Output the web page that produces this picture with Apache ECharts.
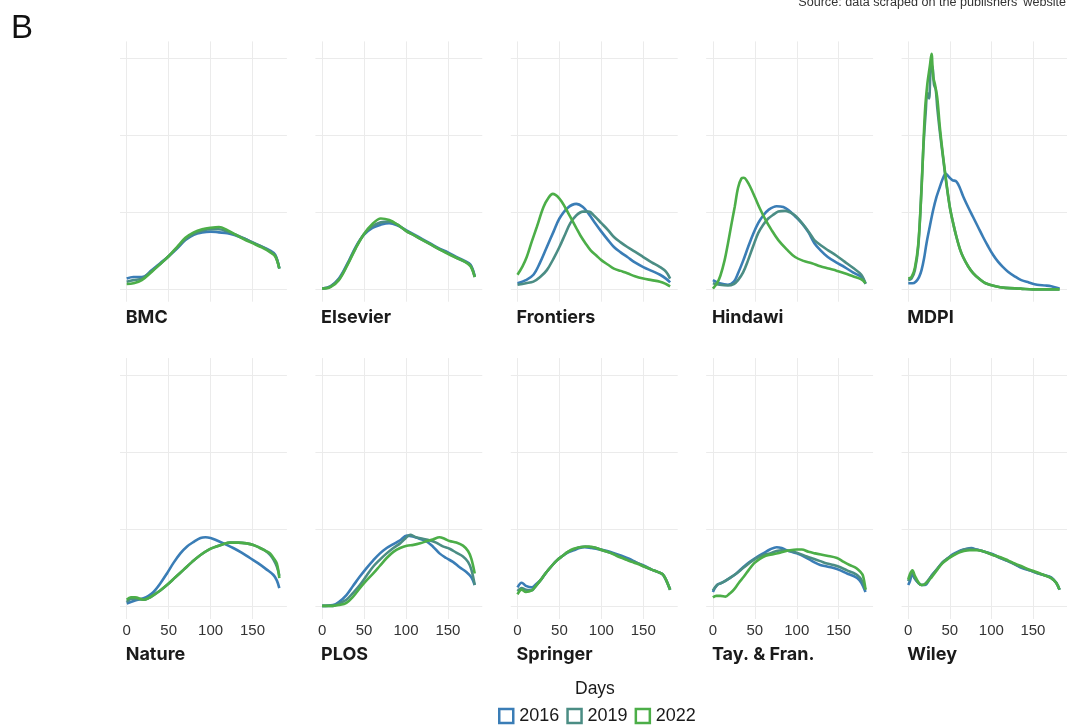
<!DOCTYPE html>
<html><head><meta charset="utf-8">
<script src="https://cdn.jsdelivr.net/npm/echarts@6/dist/echarts.min.js"></script>
<style>html,body{margin:0;padding:0;background:#fff}#c{width:1067px;height:725px}</style>
</head><body><div id="c"></div><script>
// ---- data (days, density-like scale) ----
const publishers = ['BMC','Elsevier','Frontiers','Hindawi','MDPI','Nature','PLOS','Springer','Tay. & Fran.','Wiley'];
const years = ['2016','2019','2022'];
const xTickValues = [0,50,100,150];
const yGridValues = [0,1,2,3];

const bmc2016 = [[0,0.14],[8,0.16],[18,0.16],[30,0.25],[40,0.34],[50,0.43],[60,0.53],[70,0.64],[80,0.71],[90,0.74],[100,0.75],[110,0.74],[120,0.73],[130,0.70],[140,0.66],[150,0.61],[160,0.56],[170,0.51],[177,0.45],[182,0.27]];
const bmc2019 = [[0,0.10],[8,0.12],[18,0.14],[30,0.24],[40,0.33],[50,0.43],[60,0.54],[70,0.65],[80,0.72],[90,0.76],[100,0.78],[110,0.78],[120,0.75],[130,0.71],[140,0.66],[150,0.61],[160,0.56],[170,0.50],[177,0.44],[182,0.27]];
const bmc2022 = [[0,0.07],[8,0.08],[18,0.12],[30,0.23],[40,0.33],[50,0.43],[60,0.55],[70,0.67],[80,0.74],[90,0.78],[100,0.80],[110,0.81],[120,0.77],[130,0.71],[140,0.65],[150,0.60],[160,0.55],[170,0.49],[177,0.43],[182,0.27]];

const els2016 = [[0,0.01],[10,0.04],[20,0.14],[30,0.33],[40,0.55],[50,0.71],[60,0.80],[70,0.84],[80,0.86],[90,0.83],[100,0.77],[110,0.71],[120,0.65],[130,0.59],[140,0.53],[150,0.48],[160,0.42],[170,0.37],[177,0.32],[182,0.17]];
const els2019 = [[0,0.01],[10,0.04],[20,0.13],[30,0.32],[40,0.54],[50,0.72],[60,0.82],[70,0.87],[80,0.88],[90,0.84],[100,0.76],[110,0.70],[120,0.64],[130,0.58],[140,0.52],[150,0.47],[160,0.41],[170,0.36],[177,0.31],[182,0.16]];
const els2022 = [[0,0.01],[10,0.03],[20,0.12],[30,0.31],[40,0.53],[50,0.72],[60,0.85],[70,0.92],[80,0.90],[90,0.84],[100,0.76],[110,0.70],[120,0.64],[130,0.58],[140,0.52],[150,0.46],[160,0.41],[170,0.36],[177,0.30],[182,0.16]];

const fro2016 = [[0,0.08],[10,0.12],[19,0.19],[27,0.35],[35,0.55],[43,0.75],[50,0.92],[60,1.06],[70,1.11],[78,1.07],[85,0.98],[92,0.87],[100,0.75],[108,0.64],[115,0.55],[123,0.48],[131,0.42],[140,0.35],[150,0.29],[160,0.24],[170,0.19],[177,0.14],[182,0.09]];
const fro2019 = [[0,0.06],[10,0.08],[19,0.10],[27,0.16],[35,0.25],[43,0.40],[50,0.55],[57,0.72],[63,0.86],[70,0.96],[78,1.01],[85,1.01],[92,0.95],[100,0.86],[108,0.77],[115,0.68],[123,0.61],[131,0.55],[140,0.49],[150,0.42],[160,0.35],[170,0.29],[177,0.23],[182,0.14]];
const fro2022 = [[0,0.19],[6,0.30],[11,0.42],[17,0.62],[23,0.81],[31,1.07],[37,1.19],[42,1.24],[50,1.18],[57,1.06],[63,0.94],[70,0.80],[75,0.70],[81,0.60],[87,0.51],[94,0.44],[100,0.38],[108,0.32],[115,0.27],[123,0.24],[131,0.21],[140,0.17],[150,0.14],[160,0.12],[170,0.10],[177,0.07],[182,0.04]];

const hin2016 = [[0,0.12],[8,0.08],[18,0.06],[25,0.10],[30,0.21],[36,0.37],[42,0.55],[48,0.72],[54,0.86],[60,0.96],[66,1.03],[76,1.08],[84,1.07],[90,1.03],[98,0.95],[106,0.86],[114,0.74],[121,0.60],[129,0.50],[137,0.42],[147,0.35],[157,0.29],[167,0.22],[177,0.16],[182,0.08]];
const hin2019 = [[0,0.08],[8,0.06],[18,0.05],[25,0.07],[30,0.12],[36,0.22],[42,0.38],[48,0.56],[54,0.73],[60,0.84],[66,0.92],[72,0.97],[78,1.01],[86,1.02],[92,1.00],[98,0.96],[104,0.89],[110,0.81],[116,0.72],[121,0.64],[129,0.57],[137,0.51],[147,0.44],[157,0.36],[167,0.28],[177,0.19],[182,0.07]];
const hin2022 = [[0,0.01],[5,0.08],[9,0.18],[14,0.38],[18,0.60],[22,0.84],[26,1.07],[30,1.32],[34,1.44],[37,1.45],[41,1.40],[45,1.32],[50,1.20],[56,1.05],[62,0.92],[70,0.77],[78,0.64],[88,0.52],[98,0.42],[108,0.37],[118,0.34],[128,0.30],[138,0.27],[148,0.24],[157,0.21],[167,0.17],[177,0.13],[182,0.08]];

const mdp2016 = [[0,0.08],[5,0.08],[9,0.10],[13,0.16],[16,0.25],[19,0.40],[22,0.60],[26,0.82],[30,1.03],[34,1.20],[38,1.33],[42,1.45],[45,1.50],[49,1.46],[53,1.42],[58,1.40],[62,1.32],[66,1.21],[72,1.07],[78,0.94],[84,0.81],[90,0.68],[96,0.56],[102,0.45],[108,0.36],[114,0.29],[120,0.23],[128,0.17],[136,0.12],[145,0.09],[155,0.06],[165,0.05],[172,0.04],[182,0.01]];
const mdp2019 = [[0,0.12],[4,0.14],[8,0.25],[12,0.55],[15,1.10],[18,1.80],[21,2.30],[23,2.55],[25,2.48],[27,2.85],[29,2.90],[31,2.66],[33,2.60],[35,2.35],[38,2.05],[42,1.70],[46,1.36],[50,1.07],[54,0.86],[58,0.68],[62,0.53],[66,0.42],[72,0.30],[78,0.21],[85,0.14],[93,0.08],[105,0.04],[117,0.02],[135,0.01],[150,0.00],[182,0.00]];
const mdp2022 = [[0,0.14],[4,0.16],[8,0.28],[12,0.58],[16,1.30],[20,2.29],[23,2.67],[26,2.90],[28,3.06],[30,2.76],[32,2.67],[35,2.48],[38,2.11],[42,1.72],[46,1.38],[50,1.07],[54,0.86],[58,0.68],[62,0.53],[66,0.42],[72,0.30],[78,0.21],[85,0.14],[93,0.08],[105,0.04],[117,0.02],[135,0.01],[150,0.00],[182,0.00]];

const nat2016 = [[0,0.04],[10,0.08],[20,0.11],[26,0.14],[32,0.19],[40,0.30],[48,0.43],[56,0.57],[64,0.69],[72,0.78],[80,0.84],[88,0.89],[94,0.90],[100,0.89],[107,0.86],[117,0.81],[127,0.76],[137,0.70],[147,0.63],[157,0.56],[167,0.48],[175,0.41],[179,0.34],[182,0.24]];
const nat2019 = [[0,0.06],[5,0.10],[10,0.10],[20,0.09],[26,0.11],[32,0.15],[40,0.21],[48,0.28],[58,0.38],[68,0.48],[78,0.58],[88,0.67],[98,0.74],[107,0.78],[115,0.81],[123,0.83],[133,0.83],[143,0.82],[151,0.80],[159,0.76],[166,0.72],[171,0.67],[175,0.61],[179,0.52],[182,0.40]];
const nat2022 = [[0,0.09],[5,0.12],[10,0.12],[20,0.09],[26,0.11],[32,0.15],[40,0.21],[48,0.28],[58,0.38],[68,0.48],[78,0.58],[88,0.67],[98,0.74],[107,0.78],[115,0.81],[123,0.83],[133,0.83],[143,0.82],[151,0.80],[159,0.76],[166,0.72],[171,0.69],[175,0.63],[179,0.56],[182,0.37]];

const plo2016 = [[0,0.01],[13,0.02],[20,0.06],[29,0.15],[37,0.27],[45,0.39],[53,0.50],[61,0.60],[69,0.69],[77,0.76],[85,0.81],[93,0.86],[101,0.92],[108,0.91],[116,0.88],[124,0.85],[132,0.78],[140,0.69],[148,0.63],[156,0.58],[164,0.51],[172,0.45],[178,0.38],[182,0.28]];
const plo2019 = [[0,0.01],[13,0.01],[20,0.04],[29,0.09],[37,0.18],[45,0.28],[53,0.40],[61,0.52],[69,0.61],[77,0.69],[85,0.76],[93,0.82],[99,0.88],[105,0.93],[112,0.90],[120,0.88],[128,0.86],[136,0.83],[144,0.78],[152,0.75],[160,0.70],[168,0.65],[174,0.58],[178,0.48],[182,0.28]];
const plo2022 = [[0,0.01],[13,0.01],[20,0.02],[29,0.05],[37,0.13],[45,0.24],[53,0.34],[61,0.43],[69,0.53],[77,0.63],[85,0.71],[93,0.76],[101,0.79],[109,0.80],[117,0.82],[125,0.85],[132,0.87],[140,0.90],[146,0.88],[152,0.85],[160,0.83],[168,0.79],[174,0.72],[178,0.62],[182,0.43]];

const spr2016 = [[0,0.25],[5,0.31],[10,0.27],[17,0.25],[22,0.29],[28,0.35],[34,0.44],[41,0.53],[47,0.60],[54,0.66],[60,0.70],[67,0.73],[74,0.76],[80,0.77],[88,0.76],[94,0.75],[107,0.72],[116,0.69],[124,0.66],[133,0.62],[142,0.57],[151,0.53],[160,0.48],[167,0.45],[173,0.42],[177,0.35],[182,0.22]];
const spr2019 = [[0,0.20],[5,0.24],[10,0.22],[17,0.21],[22,0.27],[28,0.35],[34,0.44],[41,0.53],[47,0.60],[54,0.66],[60,0.71],[67,0.74],[74,0.77],[81,0.78],[88,0.77],[94,0.76],[107,0.71],[116,0.68],[124,0.64],[133,0.60],[142,0.57],[151,0.52],[160,0.48],[167,0.45],[173,0.42],[177,0.35],[182,0.22]];
const spr2022 = [[0,0.16],[5,0.22],[10,0.19],[17,0.21],[22,0.27],[28,0.35],[34,0.44],[41,0.53],[47,0.60],[54,0.66],[60,0.71],[67,0.75],[74,0.77],[85,0.78],[94,0.76],[101,0.73],[110,0.70],[118,0.66],[127,0.62],[136,0.58],[142,0.56],[151,0.52],[160,0.48],[167,0.45],[173,0.42],[177,0.35],[182,0.22]];

const tay2016 = [[0,0.19],[5,0.28],[11,0.31],[20,0.37],[28,0.43],[36,0.51],[44,0.58],[52,0.64],[60,0.69],[68,0.74],[76,0.77],[82,0.76],[88,0.73],[100,0.69],[112,0.63],[120,0.58],[128,0.54],[136,0.52],[144,0.50],[152,0.47],[160,0.43],[167,0.40],[172,0.37],[177,0.31],[182,0.19]];
const tay2019 = [[0,0.21],[5,0.28],[11,0.31],[20,0.37],[28,0.43],[36,0.50],[44,0.57],[52,0.63],[60,0.67],[68,0.69],[76,0.72],[82,0.73],[92,0.72],[100,0.70],[112,0.65],[120,0.62],[128,0.59],[136,0.56],[144,0.54],[152,0.51],[160,0.47],[167,0.44],[172,0.41],[177,0.35],[182,0.22]];
const tay2022 = [[0,0.12],[4,0.14],[9,0.14],[15,0.13],[20,0.17],[25,0.22],[31,0.31],[37,0.39],[43,0.48],[49,0.56],[56,0.62],[63,0.66],[72,0.68],[80,0.70],[92,0.73],[100,0.74],[106,0.74],[114,0.71],[122,0.69],[136,0.66],[148,0.63],[156,0.58],[163,0.54],[171,0.50],[176,0.45],[179,0.40],[182,0.22]];

const wil2016 = [[0,0.28],[2,0.33],[5,0.42],[8,0.36],[12,0.31],[16,0.28],[20,0.28],[28,0.40],[35,0.49],[41,0.57],[48,0.63],[54,0.68],[61,0.72],[67,0.74],[76,0.76],[82,0.74],[89,0.72],[102,0.68],[111,0.63],[120,0.59],[128,0.55],[137,0.50],[146,0.47],[154,0.44],[163,0.41],[172,0.38],[178,0.31],[182,0.22]];
const wil2019 = [[0,0.33],[2,0.38],[5,0.45],[8,0.37],[12,0.31],[16,0.28],[20,0.29],[28,0.40],[35,0.49],[41,0.57],[48,0.63],[54,0.67],[61,0.71],[67,0.74],[74,0.75],[82,0.74],[89,0.72],[102,0.67],[111,0.63],[120,0.59],[128,0.55],[137,0.51],[146,0.47],[154,0.44],[163,0.41],[172,0.37],[178,0.31],[182,0.22]];
const wil2022 = [[0,0.35],[2,0.42],[5,0.47],[8,0.40],[12,0.32],[16,0.28],[20,0.29],[28,0.38],[35,0.48],[41,0.56],[48,0.62],[54,0.66],[61,0.70],[67,0.72],[74,0.73],[82,0.73],[89,0.72],[102,0.67],[111,0.64],[120,0.60],[128,0.56],[137,0.52],[146,0.48],[154,0.45],[163,0.41],[172,0.37],[178,0.31],[182,0.22]];

const panelData = [
  [bmc2016, bmc2019, bmc2022],
  [els2016, els2019, els2022],
  [fro2016, fro2019, fro2022],
  [hin2016, hin2019, hin2022],
  [mdp2016, mdp2019, mdp2022],
  [nat2016, nat2019, nat2022],
  [plo2016, plo2019, plo2022],
  [spr2016, spr2019, spr2022],
  [tay2016, tay2019, tay2022],
  [wil2016, wil2019, wil2022]
];

// ---- layout / style ----
const colors = ['#3a7db6', '#4b8d84', '#4cae48'];
const colZero = [126.7, 322.1, 517.5, 712.9, 908.3];
const pxPerDay = 0.8386;
const X_MIN = -8, X_MAX = 191;
const Y_MIN = -0.16, Y_MAX = 3.22;
const rowTop = [41.4, 358.1];
const rowHeight = [260.3, 260.9];
const titleTop = [309, 646];
const gridColor = '#ebebeb';

const grids = [], xAxes = [], yAxes = [], series = [], titles = [];

publishers.forEach((pub, i) => {
  const r = Math.floor(i / 5), c = i % 5;
  grids.push({
    left: colZero[c] + X_MIN * pxPerDay,
    top: rowTop[r],
    width: (X_MAX - X_MIN) * pxPerDay,
    height: rowHeight[r]
  });
  xAxes.push({
    type: 'value', gridIndex: i, min: X_MIN, max: X_MAX,
    axisLine: {show: false}, axisTick: {show: false}, splitLine: {show: false},
    axisLabel: {
      show: r === 1, customValues: xTickValues, margin: 4,
      fontSize: 15, color: '#333', fontFamily: 'Liberation Sans, Arial, sans-serif'
    }
  });
  yAxes.push({
    type: 'value', gridIndex: i, min: Y_MIN, max: Y_MAX,
    axisLine: {show: false}, axisTick: {show: false}, splitLine: {show: false},
    axisLabel: {show: false}
  });
  // background grid lines
  series.push({
    type: 'line', name: 'grid' + i, xAxisIndex: i, yAxisIndex: i, data: [],
    silent: true, z: 0,
    markLine: {
      silent: true, symbol: ['none', 'none'], z: 0, animation: false,
      label: {show: false},
      lineStyle: {color: gridColor, width: 1, type: 'solid'},
      emphasis: {disabled: true},
      data: xTickValues.map(v => ({xAxis: v})).concat(yGridValues.map(v => ({yAxis: v})))
    }
  });
  years.forEach((y, k) => {
    series.push({
      type: 'line', name: y, xAxisIndex: i, yAxisIndex: i,
      data: panelData[i][k], showSymbol: false, symbol: 'none',
      smooth: 0.35, z: 2 + k,
      lineStyle: {color: colors[k], width: 2.6},
      itemStyle: {color: colors[k]},
      emphasis: {disabled: true}
    });
  });
  titles.push({
    text: pub, left: colZero[c] - 1, top: titleTop[r], padding: 0,
    textStyle: {fontSize: 18, fontWeight: 'bold', color: '#1a1a1a', fontFamily: 'Inter, Lato, sans-serif'}
  });
});

titles.push({
  text: 'B', left: 11, top: 12, padding: 0,
  textStyle: {fontSize: 33, fontWeight: 'normal', color: '#111', fontFamily: 'Liberation Sans, Arial, sans-serif'}
});
titles.push({
  text: "Source: data scraped on the publishers' website", right: 1, top: -4, padding: 0,
  textStyle: {fontSize: 12.6, fontWeight: 'normal', color: '#333', fontFamily: 'Liberation Sans, Arial, sans-serif'}
});
titles.push({
  text: 'Days', left: 575, top: 680, padding: 0,
  textStyle: {fontSize: 17.5, fontWeight: 'normal', color: '#1a1a1a', fontFamily: 'Liberation Sans, Arial, sans-serif'}
});

const option = {
  animation: false,
  backgroundColor: '#fff',
  title: titles,
  grid: grids,
  xAxis: xAxes,
  yAxis: yAxes,
  legend: {
    left: 498, top: 707, orient: 'horizontal', itemGap: 7,
    itemWidth: 14, itemHeight: 14, icon: 'rect', padding: 0,
    textStyle: {fontSize: 18, color: '#1a1a1a', fontFamily: 'Liberation Sans, Arial, sans-serif', padding: [0, 0, 0, 1]},
    data: years.map((y, k) => ({
      name: y, icon: 'rect',
      itemStyle: {color: '#ffffff', borderColor: colors[k], borderWidth: 2.5}
    }))
  },
  series: series
};

const chart = echarts.init(document.getElementById('c'), null, {renderer: 'canvas'});
chart.setOption(option);
</script></body></html>
